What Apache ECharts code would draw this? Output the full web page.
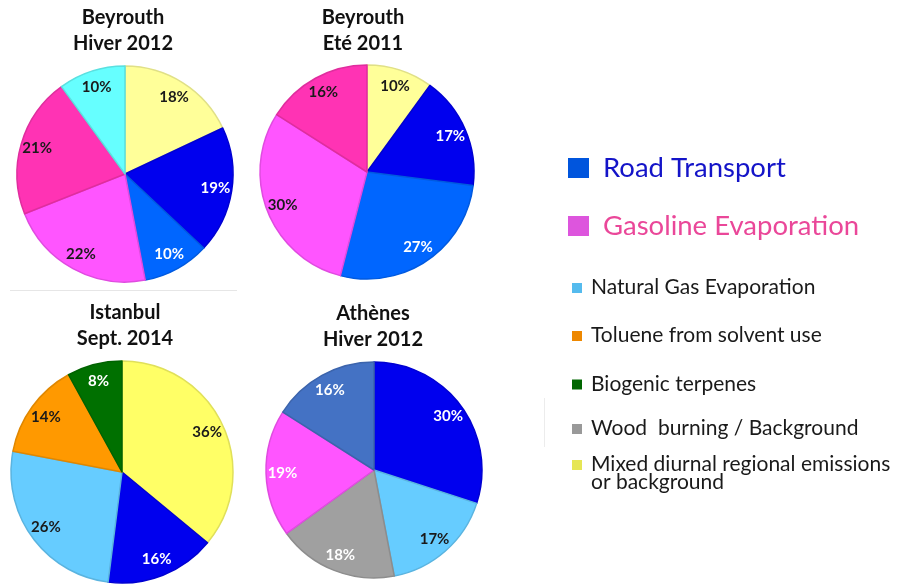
<!DOCTYPE html>
<html>
<head>
<meta charset="utf-8">
<script src="https://cdn.jsdelivr.net/npm/echarts@6/dist/echarts.min.js"></script>
<style>
  html, body { margin: 0; padding: 0; background: #ffffff; }
  #chart { width: 897px; height: 586px; }
</style>
</head>
<body>
<div id="chart"></div>
<script>
// ---- Data: source contributions (%) for each campaign, clockwise from 12 o'clock ----
const campaignTitles = ['Beyrouth\nHiver 2012', 'Beyrouth\nEté 2011', 'Istanbul\nSept. 2014', 'Athènes\nHiver 2012'];

const beyrouthHiverSources = ['Mixed diurnal regional emissions', 'Road Transport', 'Road Transport (evap.)', 'Gasoline Evaporation', 'Gasoline Evaporation (headspace)', 'Natural Gas Evaporation'];
const beyrouthHiverValues = [18, 19, 10, 22, 21, 10];

const beyrouthEteSources = ['Mixed diurnal regional emissions', 'Road Transport', 'Road Transport (evap.)', 'Gasoline Evaporation', 'Gasoline Evaporation (headspace)'];
const beyrouthEteValues = [10, 17, 27, 30, 16];

const istanbulSources = ['Mixed diurnal regional emissions', 'Road Transport', 'Natural Gas Evaporation', 'Toluene from solvent use', 'Biogenic terpenes'];
const istanbulValues = [36, 16, 26, 14, 8];

const athenesSources = ['Road Transport', 'Natural Gas Evaporation', 'Wood burning / Background', 'Gasoline Evaporation', 'Road Transport (diesel)'];
const athenesValues = [30, 17, 18, 19, 16];

// Legend entries
const legendMain = ['Road Transport', 'Gasoline Evaporation'];
const legendOther = ['Natural Gas Evaporation', 'Toluene from solvent use', 'Biogenic terpenes', 'Wood  burning / Background', 'Mixed diurnal regional emissions\nor background'];

// ---- Styles ----
const FONT = 'Lato, "Open Sans", "DejaVu Sans", sans-serif';
const DARK = '#1a1a1a';
const WHITE = '#ffffff';

const pieColors = [
  ['#ffff99', '#0000ee', '#0066ff', '#ff55ff', '#ff33b4', '#66ffff'],
  ['#ffff99', '#0000ee', '#0066ff', '#ff55ff', '#ff33b4'],
  ['#ffff66', '#0000ee', '#66ccff', '#ff9900', '#007000'],
  ['#0000ee', '#66ccff', '#a0a0a0', '#ff55ff', '#4472c4']
];
const labelColors = [
  [DARK, WHITE, WHITE, DARK, DARK, DARK],
  [DARK, WHITE, WHITE, DARK, DARK],
  [DARK, WHITE, DARK, DARK, WHITE],
  [WHITE, DARK, WHITE, WHITE, WHITE]
];
const legendMainColors = { box: ['#0055dd', '#dd55dd'], text: ['#1414c8', '#ea4799'] };
const legendOtherColors = ['#55bbee', '#ee8800', '#006600', '#999999', '#e6e655'];

// ---- Layout ----
const pieLayout = [
  { center: [125, 174], r: 108, titleX: 123, titleY: 5 },
  { center: [367, 172], r: 107, titleX: 363, titleY: 5 },
  { center: [122, 472], r: 111, titleX: 125, titleY: 300 },
  { center: [374, 470], r: 108, titleX: 373, titleY: 301 }
];
const legendOtherRowY = [288, 336, 384.5, 429, 465];

const pieSources = [beyrouthHiverSources, beyrouthEteSources, istanbulSources, athenesSources];
const pieValues = [beyrouthHiverValues, beyrouthEteValues, istanbulValues, athenesValues];

function shade(hex, f) {
  const n = parseInt(hex.slice(1), 16);
  const r = Math.round(((n >> 16) & 255) * (1 - f));
  const g = Math.round(((n >> 8) & 255) * (1 - f));
  const b = Math.round((n & 255) * (1 - f));
  return 'rgb(' + r + ',' + g + ',' + b + ')';
}

const title = campaignTitles.map((t, i) => ({
  text: t,
  left: pieLayout[i].titleX,
  top: pieLayout[i].titleY,
  textAlign: 'center',
  padding: 0,
  textStyle: { fontFamily: FONT, fontWeight: 'bold', fontSize: 20, lineHeight: 26, color: '#111111' }
}));

const series = [];
pieValues.forEach((vals, i) => {
  const L = pieLayout[i];
  // filled slices
  series.push({
    type: 'pie',
    center: L.center,
    radius: L.r,
    startAngle: 90,
    clockwise: true,
    silent: true,
    avoidLabelOverlap: false,
    label: { show: false },
    labelLine: { show: false },
    emphasis: { disabled: true },
    data: vals.map((v, k) => ({
      name: pieSources[i][k],
      value: v,
      itemStyle: { color: pieColors[i][k], borderColor: shade(pieColors[i][k], 0.12), borderWidth: 1.5 }
    }))
  });
  // transparent ring carrying the percentage labels
  series.push({
    type: 'pie',
    center: L.center,
    radius: [L.r * 0.64, L.r],
    startAngle: 90,
    clockwise: true,
    silent: true,
    avoidLabelOverlap: false,
    itemStyle: { color: 'rgba(0,0,0,0)', borderWidth: 0 },
    labelLine: { show: false },
    emphasis: { disabled: true },
    data: vals.map((v, k) => ({
      name: pieSources[i][k],
      value: v,
      label: {
        show: true,
        position: 'inside',
        formatter: '{c}%',
        fontFamily: FONT,
        fontWeight: 'bold',
        fontSize: 15,
        color: labelColors[i][k]
      }
    }))
  });
});

// legend and separators drawn as graphic elements
const graphic = [];
graphic.push({ type: 'line', shape: { x1: 10, y1: 290.5, x2: 237, y2: 290.5 }, style: { stroke: '#e6e6e6', lineWidth: 1 }, silent: true });
graphic.push({ type: 'line', shape: { x1: 544.5, y1: 398, x2: 544.5, y2: 447 }, style: { stroke: '#ececec', lineWidth: 1 }, silent: true });

const mainRowY = [168, 226];
legendMain.forEach((name, i) => {
  graphic.push({ type: 'rect', shape: { x: 568, y: mainRowY[i] - 10, width: 21, height: 20 }, style: { fill: legendMainColors.box[i] }, silent: true });
  graphic.push({
    type: 'text', x: 603, y: mainRowY[i],
    style: { text: name, fontFamily: FONT, fontSize: 27.5, fill: legendMainColors.text[i], align: 'left', verticalAlign: 'middle' },
    silent: true
  });
});

legendOther.forEach((name, i) => {
  const y = legendOtherRowY[i];
  graphic.push({ type: 'rect', shape: { x: 572, y: y - 5, width: 10, height: 10 }, style: { fill: legendOtherColors[i] }, silent: true });
  graphic.push({
    type: 'text', x: 591, y: y - 9.5,
    style: { text: name, fontFamily: FONT, fontSize: 21, lineHeight: 18, fill: DARK, align: 'left', verticalAlign: 'top' },
    silent: true
  });
});

const chart = echarts.init(document.getElementById('chart'), null, { renderer: 'canvas' });
chart.setOption({
  animation: false,
  backgroundColor: '#ffffff',
  title: title,
  series: series,
  graphic: graphic
});
</script>
</body>
</html>
